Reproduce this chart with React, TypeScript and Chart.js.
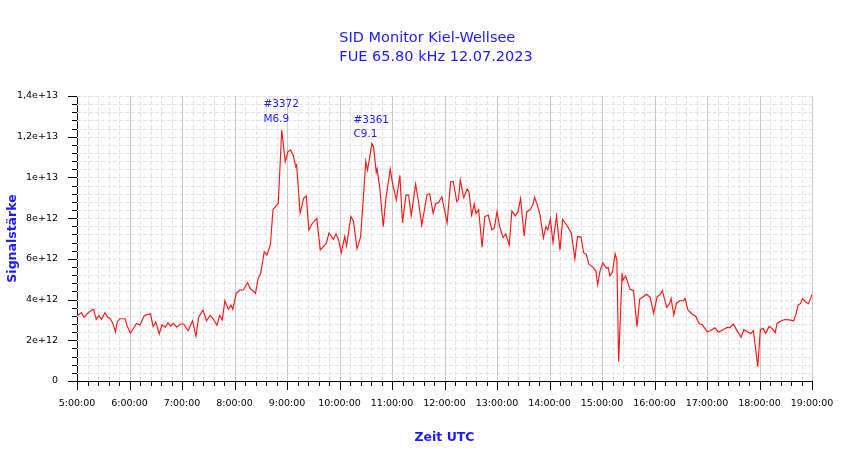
import { useEffect, useRef } from "react";
import { Chart, registerables } from "chart.js";

Chart.register(...registerables);

// time in minutes since 00:00 UTC, signal in units of 1e12
const sampleMinutes = [
  300, 305, 308, 312, 317, 319, 322, 325, 328, 332, 335, 338, 341, 344, 346, 349, 355, 357, 361, 364,
  368, 372, 377, 381, 384, 387, 390, 394, 397, 401, 404, 407, 410, 414, 418, 422, 427, 432, 436, 439,
  444, 448, 452, 456, 460, 463, 466, 469, 473, 476, 478, 482, 486, 490, 495, 498, 504, 507, 510, 514,
  517, 521, 524, 530, 534, 538, 541, 544, 547, 550, 551, 555, 559, 562, 565, 569, 574, 578, 585, 588,
  593, 596, 599, 602, 606, 608, 613, 616, 620, 624, 627, 630, 632, 634, 637, 639, 642, 643, 646, 650,
  653, 658, 661, 665, 669, 672, 676, 679, 682, 687, 690, 694, 700, 703, 707, 710, 713, 717, 719, 723,
  727, 730, 734, 736, 738, 742, 746, 748, 751, 754, 756, 759, 763, 766, 770, 774, 777, 780, 783, 787,
  790, 794, 797, 801, 804, 807, 811, 814, 818, 821, 823, 826, 829, 833, 836, 838, 841, 844, 848, 852,
  855, 860, 865, 869, 872, 876, 879, 882, 885, 890, 893, 895, 898, 901, 905, 907, 909, 912, 915, 917,
  919, 923, 924, 927, 932, 936, 940, 943, 947, 951, 955, 959, 963, 966, 969, 974, 977, 979, 982, 985,
  989, 993, 995, 998, 1003, 1007, 1011, 1015, 1020, 1024, 1029, 1033, 1038, 1043, 1046, 1050, 1054, 1059, 1062, 1066,
  1070, 1073, 1078, 1081, 1084, 1087, 1091, 1095, 1098, 1100, 1105, 1109, 1114, 1119, 1122, 1124, 1127, 1129, 1133, 1136,
  1140,
];

const signalValues = [
  3.19, 3.36, 3.13, 3.32, 3.49, 3.52, 3.03, 3.22, 3.03, 3.36, 3.13, 3.06, 2.83, 2.41, 2.9, 3.06, 3.06, 2.75, 2.34, 2.54,
  2.83, 2.75, 3.22, 3.27, 3.29, 2.67, 2.9, 2.31, 2.75, 2.64, 2.86, 2.7, 2.83, 2.64, 2.8, 2.8, 2.47, 2.96, 2.21, 3.13,
  3.49, 2.96, 3.22, 3.03, 2.74, 3.22, 3.0, 3.94, 3.52, 3.72, 3.52, 4.31, 4.47, 4.47, 4.83, 4.55, 4.31, 5.04, 5.29, 6.35,
  6.19, 6.68, 8.43, 8.72, 12.33, 10.77, 11.26, 11.35, 11.1, 10.53, 10.61, 8.24, 8.97, 9.09, 7.42, 7.75, 7.99, 6.44, 6.76, 7.28,
  6.96, 7.22, 6.93, 6.3, 7.1, 6.62, 8.08, 7.85, 6.5, 7.05, 8.81, 10.8, 10.36, 10.85, 11.66, 11.5, 10.25, 10.42, 9.5, 7.58,
  8.97, 10.4, 9.62, 8.9, 10.1, 7.78, 9.14, 9.13, 8.12, 9.67, 8.89, 7.66, 9.14, 9.2, 8.24, 8.72, 8.76, 9.05, 8.6, 7.77,
  9.79, 9.8, 8.81, 8.93, 9.88, 9.0, 9.43, 9.3, 8.15, 8.69, 8.22, 8.42, 6.57, 8.07, 8.15, 7.43, 7.52, 8.32, 7.58, 7.05,
  7.22, 6.68, 8.35, 8.11, 8.33, 8.97, 7.12, 8.32, 8.42, 8.66, 9.02, 8.65, 8.2, 7.03, 7.58, 7.42, 7.96, 6.8, 8.1, 6.42,
  7.94, 7.64, 7.26, 6.0, 7.1, 7.07, 6.3, 6.22, 5.74, 5.57, 5.4, 4.74, 5.45, 5.8, 5.55, 5.58, 5.16, 5.37, 6.25, 5.94,
  0.95, 5.32, 4.96, 5.16, 4.5, 4.44, 2.67, 4.01, 4.14, 4.26, 4.11, 3.32, 4.14, 4.22, 4.44, 3.62, 3.78, 4.06, 3.24, 3.81,
  3.94, 3.95, 4.06, 3.5, 3.28, 3.18, 2.82, 2.75, 2.42, 2.48, 2.61, 2.4, 2.52, 2.63, 2.62, 2.8, 2.5, 2.15, 2.52, 2.42,
  2.33, 2.48, 0.7, 2.52, 2.59, 2.34, 2.68, 2.56, 2.37, 2.83, 2.96, 3.02, 3.0, 2.96, 3.32, 3.73, 3.81, 4.05, 3.87, 3.8,
  4.25,
];

const xTickLabels = [
  "5:00:00", "6:00:00", "7:00:00", "8:00:00", "9:00:00", "10:00:00", "11:00:00", "12:00:00",
  "13:00:00", "14:00:00", "15:00:00", "16:00:00", "17:00:00", "18:00:00", "19:00:00",
];
const yTickLabels = ["0", "2e+12", "4e+12", "6e+12", "8e+12", "1e+13", "1,2e+13", "1,4e+13"];

const titleLines = ["SID Monitor Kiel-Wellsee", "FUE 65.80 kHz 12.07.2023"];

// flare labels: anchored at (minute, value) = bottom-left of the text block
const flareMinutes = [513, 616];
const flareValues = [12.74, 11.97];
const flareIds = ["#3372", "#3361"];
const flareClasses = ["M6.9", "C9.1"];

const X_MIN = 300;
const X_MAX = 1140;
const Y_MAX = 14;
const BLUE = "#1a1aff";

const gridPlugin = {
  id: "sidGrid",
  beforeDatasetsDraw(chart: any) {
    const { ctx, chartArea, scales } = chart;
    const { left, right, top, bottom } = chartArea;
    const x = scales.x;
    const y = scales.y;
    ctx.save();
    ctx.lineWidth = 1;
    ctx.strokeStyle = "#e3e3e3";
    ctx.setLineDash([4, 2]);
    for (let m = X_MIN + 12; m < X_MAX; m += 12) {
      if ((m - X_MIN) % 60 === 0) continue;
      const px = Math.round(x.getPixelForValue(m)) + 0.5;
      ctx.beginPath();
      ctx.moveTo(px, bottom);
      ctx.lineTo(px, top);
      ctx.stroke();
    }
    for (let i = 1; i <= 35; i++) {
      const py = Math.round(y.getPixelForValue(i * 0.4)) + 0.5;
      ctx.beginPath();
      ctx.moveTo(left, py);
      ctx.lineTo(right, py);
      ctx.stroke();
    }
    ctx.setLineDash([]);
    ctx.strokeStyle = "#c8c8c8";
    for (let m = X_MIN + 60; m <= X_MAX; m += 60) {
      const px = Math.round(x.getPixelForValue(m)) + 0.5;
      ctx.beginPath();
      ctx.moveTo(px, bottom);
      ctx.lineTo(px, top);
      ctx.stroke();
    }
    ctx.restore();
  },
  afterDraw(chart: any) {
    const { ctx, chartArea, scales } = chart;
    const { left, bottom } = chartArea;
    const x = scales.x;
    const y = scales.y;
    ctx.save();
    ctx.strokeStyle = "#000";
    ctx.lineWidth = 1;
    // tick marks
    for (let m = X_MIN; m <= X_MAX; m += 12) {
      const px = Math.round(x.getPixelForValue(m)) + 0.5;
      const len = (m - X_MIN) % 60 === 0 ? 9 : 5;
      ctx.beginPath();
      ctx.moveTo(px, bottom);
      ctx.lineTo(px, bottom + len);
      ctx.stroke();
    }
    for (let i = 0; i <= 35; i++) {
      const py = Math.round(y.getPixelForValue(i * 0.4)) + 0.5;
      const len = i % 5 === 0 ? 9 : 5;
      ctx.beginPath();
      ctx.moveTo(left, py);
      ctx.lineTo(left - len, py);
      ctx.stroke();
    }

    // title
    ctx.fillStyle = BLUE;
    ctx.font = "14.5px 'DejaVu Sans', sans-serif";
    ctx.textBaseline = "alphabetic";
    ctx.textAlign = "left";
    const w = Math.max(...titleLines.map((t) => ctx.measureText(t).width));
    const tx = 436 - w / 2;
    titleLines.forEach((t, i) => ctx.fillText(t, tx, 42 + i * 18.5));

    // flare labels
    ctx.font = "10.5px 'DejaVu Sans', sans-serif";
    flareMinutes.forEach((m, i) => {
      const fx = x.getPixelForValue(m);
      const fy = y.getPixelForValue(flareValues[i]);
      ctx.fillText(flareIds[i], fx, fy - 14.5);
      ctx.fillText(flareClasses[i], fx, fy);
    });
    ctx.restore();
  },
};

const SidChart = () => {
  const chartRef = useRef<HTMLCanvasElement>(null);

  useEffect(() => {
    if (!chartRef.current) return;
    const points = sampleMinutes.map((m, i) => ({ x: m, y: signalValues[i] }));
    const tickFont = { family: "'DejaVu Sans', sans-serif", size: 9.5 };
    const axisTitleFont = { family: "'DejaVu Sans', sans-serif", size: 12.5, weight: "bold" as const };

    const chartInstance = new Chart(chartRef.current, {
      type: "line",
      data: {
        datasets: [
          {
            label: "Signalstärke",
            data: points,
            borderColor: "rgb(255, 20, 20)",
            borderWidth: 1.15,
            pointRadius: 0,
            tension: 0,
            fill: false,
          },
        ],
      },
      options: {
        animation: false,
        responsive: false,
        layout: { padding: { left: 0, right: 38, top: 96, bottom: 0 } },
        plugins: {
          legend: { display: false },
          tooltip: { enabled: false },
          title: { display: false },
        },
        scales: {
          x: {
            type: "linear",
            min: X_MIN,
            max: X_MAX,
            grid: { display: false },
            border: { display: true, color: "#000", width: 1 },
            ticks: {
              stepSize: 60,
              autoSkip: false,
              maxRotation: 0,
              padding: 9,
              color: "#000",
              font: tickFont,
              callback: (v: any) => xTickLabels[Math.round((Number(v) - X_MIN) / 60)] ?? "",
            },
            title: {
              display: true,
              text: "Zeit UTC",
              color: BLUE,
              font: axisTitleFont,
              padding: { top: 0, bottom: 14 },
            },
            afterFit: (scale: any) => {
              scale.height = 78;
            },
          },
          y: {
            min: 0,
            max: Y_MAX,
            grid: { display: false },
            border: { display: true, color: "#000", width: 1 },
            ticks: {
              stepSize: 2,
              autoSkip: false,
              padding: 11,
              color: "#000",
              font: tickFont,
              callback: (v: any) => yTickLabels[Math.round(Number(v) / 2)] ?? "",
            },
            title: {
              display: true,
              text: "Signalstärke",
              color: BLUE,
              font: axisTitleFont,
              padding: { top: 5, bottom: 0 },
            },
            afterFit: (scale: any) => {
              scale.width = 77;
            },
          },
        },
      },
      plugins: [gridPlugin],
    });

    return () => {
      chartInstance.destroy();
    };
  }, []);

  return (
    <div style={{ position: "absolute", left: 0, top: 0, width: 850, height: 459, background: "#fff" }}>
      <canvas ref={chartRef} width={850} height={459}></canvas>
    </div>
  );
};

export default function App() {
  return <SidChart />;
}
